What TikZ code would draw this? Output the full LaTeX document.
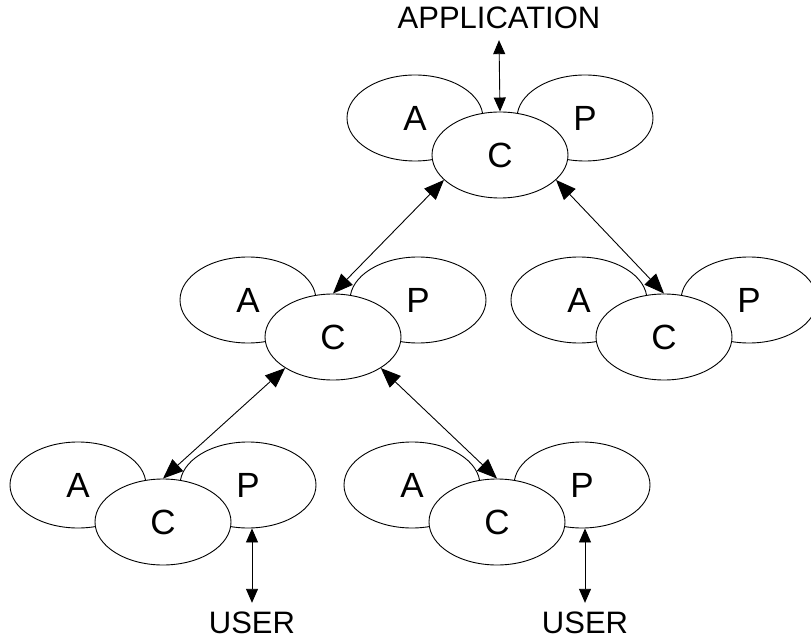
\documentclass[tikz,border=0pt]{standalone}
\usepackage{fontspec}
\setmainfont{Liberation Sans}
\usetikzlibrary{shapes.geometric,arrows.meta}
\tikzset{
  pacpart/.style={ellipse, draw, fill=white, line width=0.9pt,
    minimum width=136pt, minimum height=86pt, inner sep=0pt,
    font=\fontsize{35}{40}\selectfont},
  link/.style={{Triangle[width=16pt,length=20pt]}-{Triangle[width=16pt,length=20pt]},
    line width=0.9pt},
  iolink/.style={{Triangle[width=12pt,length=14pt]}-{Triangle[width=12pt,length=14pt]},
    line width=0.9pt},
  endtext/.style={font=\fontsize{31}{36}\selectfont, inner sep=0pt}
}
% One PAC agent: abstraction, presentation, and control on top
\newcommand\pacagent[3]{%
  \node[pacpart] (#1a) at (#2-85,#3-37) {A};
  \node[pacpart] (#1p) at (#2+85,#3-37) {P};
  \node[pacpart] (#1c) at (#2,#3) {C};
}
\begin{document}
\begin{tikzpicture}[x=1pt,y=-1pt]
  \path[clip] (0,0) rectangle (811,644);

  \pacagent{top}{500}{155}
  \pacagent{ml}{333}{337}
  \pacagent{mr}{664}{337}
  \pacagent{bl}{163}{522}
  \pacagent{br}{497}{522}

  \node[endtext] (app) at (499,18) {APPLICATION};
  \node[endtext] (userl) at (252,623) {USER};
  \node[endtext] (userr) at (585,623) {USER};

  % hierarchy links between control parts
  \draw[link] (topc.204) -- (mlc.north);
  \draw[link] (topc.336) -- (mrc.north);
  \draw[link] (mlc.213) -- (blc.north);
  \draw[link] (mlc.327) -- (brc.north);

  % external connections
  \draw[iolink] (topc.north) -- ([yshift=-11pt]app.south);
  \draw[iolink] (blp.south -| userl) -- ([yshift=9pt]userl.north);
  \draw[iolink] (brp.south -| userr) -- ([yshift=9pt]userr.north);
\end{tikzpicture}
\end{document}
